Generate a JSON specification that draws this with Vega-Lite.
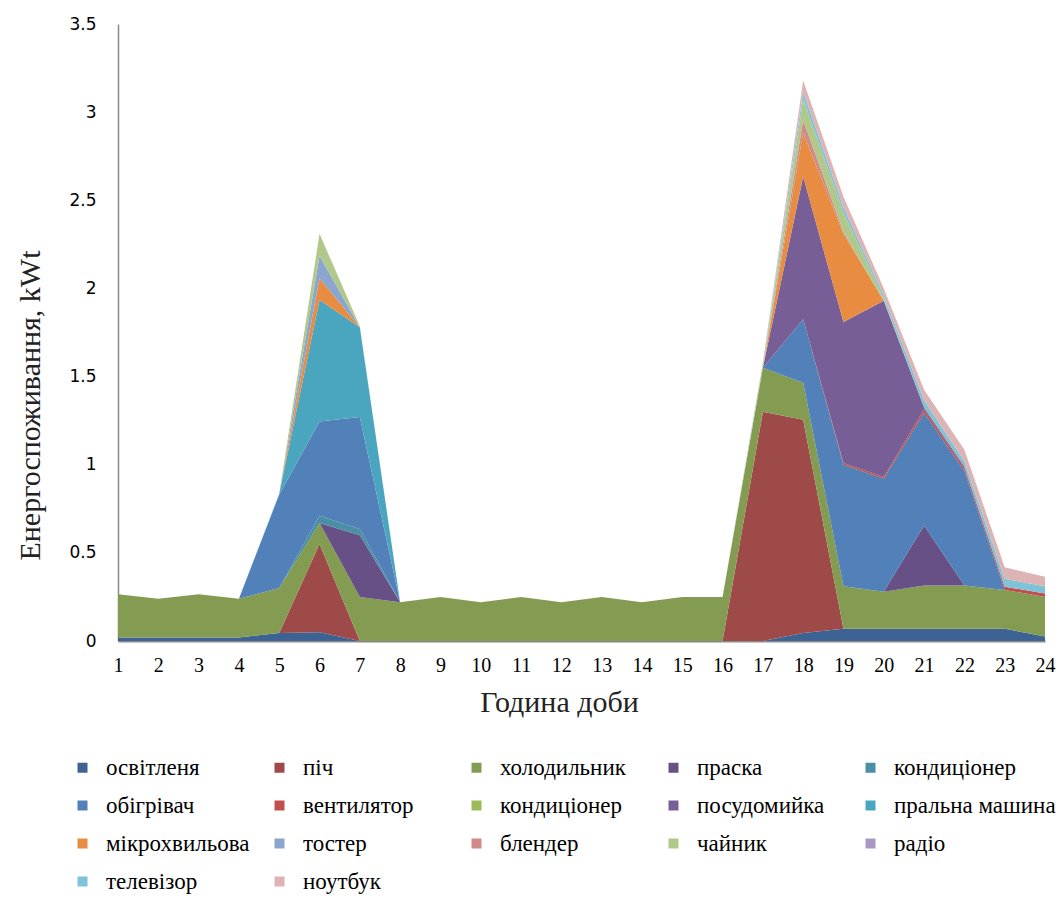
{
  "$schema": "https://vega.github.io/schema/vega-lite/v6.json",
  "width": 927,
  "height": 617,
  "autosize": {"type": "none"},
  "padding": {"left": 118, "top": 24, "right": 18, "bottom": 259},
  "background": "white",
  "config": {
    "font": "Liberation Serif",
    "view": {"stroke": null},
    "legend": {"labelFont": "Liberation Serif", "labelFontSize": 23}
  },
  "data": {"values": [
    {"h":1,"k":1,"s":"освітленя","v":0.02},{"h":2,"k":1,"s":"освітленя","v":0.02},{"h":3,"k":1,"s":"освітленя","v":0.02},{"h":4,"k":1,"s":"освітленя","v":0.02},{"h":5,"k":1,"s":"освітленя","v":0.045},{"h":6,"k":1,"s":"освітленя","v":0.05},{"h":7,"k":1,"s":"освітленя","v":0},{"h":8,"k":1,"s":"освітленя","v":0},{"h":9,"k":1,"s":"освітленя","v":0},{"h":10,"k":1,"s":"освітленя","v":0},{"h":11,"k":1,"s":"освітленя","v":0},{"h":12,"k":1,"s":"освітленя","v":0},{"h":13,"k":1,"s":"освітленя","v":0},{"h":14,"k":1,"s":"освітленя","v":0},{"h":15,"k":1,"s":"освітленя","v":0},{"h":16,"k":1,"s":"освітленя","v":0},{"h":17,"k":1,"s":"освітленя","v":0},{"h":18,"k":1,"s":"освітленя","v":0.045},{"h":19,"k":1,"s":"освітленя","v":0.07},{"h":20,"k":1,"s":"освітленя","v":0.07},{"h":21,"k":1,"s":"освітленя","v":0.07},{"h":22,"k":1,"s":"освітленя","v":0.07},{"h":23,"k":1,"s":"освітленя","v":0.07},{"h":24,"k":1,"s":"освітленя","v":0.025},
    {"h":5,"k":2,"s":"піч","v":0},{"h":6,"k":2,"s":"піч","v":0.5},{"h":7,"k":2,"s":"піч","v":0},{"h":16,"k":2,"s":"піч","v":0},{"h":17,"k":2,"s":"піч","v":1.3},{"h":18,"k":2,"s":"піч","v":1.21},{"h":19,"k":2,"s":"піч","v":0},
    {"h":1,"k":3,"s":"холодильник","v":0.245},{"h":2,"k":3,"s":"холодильник","v":0.22},{"h":3,"k":3,"s":"холодильник","v":0.245},{"h":4,"k":3,"s":"холодильник","v":0.22},{"h":5,"k":3,"s":"холодильник","v":0.255},{"h":6,"k":3,"s":"холодильник","v":0.12},{"h":7,"k":3,"s":"холодильник","v":0.25},{"h":8,"k":3,"s":"холодильник","v":0.22},{"h":9,"k":3,"s":"холодильник","v":0.25},{"h":10,"k":3,"s":"холодильник","v":0.22},{"h":11,"k":3,"s":"холодильник","v":0.25},{"h":12,"k":3,"s":"холодильник","v":0.22},{"h":13,"k":3,"s":"холодильник","v":0.25},{"h":14,"k":3,"s":"холодильник","v":0.22},{"h":15,"k":3,"s":"холодильник","v":0.25},{"h":16,"k":3,"s":"холодильник","v":0.25},{"h":17,"k":3,"s":"холодильник","v":0.25},{"h":18,"k":3,"s":"холодильник","v":0.21},{"h":19,"k":3,"s":"холодильник","v":0.24},{"h":20,"k":3,"s":"холодильник","v":0.21},{"h":21,"k":3,"s":"холодильник","v":0.245},{"h":22,"k":3,"s":"холодильник","v":0.245},{"h":23,"k":3,"s":"холодильник","v":0.22},{"h":24,"k":3,"s":"холодильник","v":0.225},
    {"h":6,"k":4,"s":"праска","v":0},{"h":7,"k":4,"s":"праска","v":0.35},{"h":8,"k":4,"s":"праска","v":0},{"h":20,"k":4,"s":"праска","v":0},{"h":21,"k":4,"s":"праска","v":0.34},{"h":22,"k":4,"s":"праска","v":0},
    {"h":5,"k":5,"s":"кондиціонер","v":0},{"h":6,"k":5,"s":"кондиціонер","v":0.04},{"h":7,"k":5,"s":"кондиціонер","v":0.035},{"h":8,"k":5,"s":"кондиціонер","v":0},
    {"h":4,"k":6,"s":"обігрівач","v":0},{"h":5,"k":6,"s":"обігрівач","v":0.53},{"h":6,"k":6,"s":"обігрівач","v":0.535},{"h":7,"k":6,"s":"обігрівач","v":0.635},{"h":8,"k":6,"s":"обігрівач","v":0},{"h":17,"k":6,"s":"обігрівач","v":0},{"h":18,"k":6,"s":"обігрівач","v":0.36},{"h":19,"k":6,"s":"обігрівач","v":0.69},{"h":20,"k":6,"s":"обігрівач","v":0.64},{"h":21,"k":6,"s":"обігрівач","v":0.64},{"h":22,"k":6,"s":"обігрівач","v":0.65},{"h":23,"k":6,"s":"обігрівач","v":0},
    {"h":18,"k":7,"s":"вентилятор","v":0},{"h":19,"k":7,"s":"вентилятор","v":0.01},{"h":20,"k":7,"s":"вентилятор","v":0.01},{"h":21,"k":7,"s":"вентилятор","v":0.02},{"h":22,"k":7,"s":"вентилятор","v":0.015},{"h":23,"k":7,"s":"вентилятор","v":0.018},{"h":24,"k":7,"s":"вентилятор","v":0.02},
    {"h":17,"k":9,"s":"посудомийка","v":0},{"h":18,"k":9,"s":"посудомийка","v":0.81},{"h":19,"k":9,"s":"посудомийка","v":0.8},{"h":20,"k":9,"s":"посудомийка","v":1.0},{"h":21,"k":9,"s":"посудомийка","v":0.01},{"h":22,"k":9,"s":"посудомийка","v":0.01},{"h":23,"k":9,"s":"посудомийка","v":0},
    {"h":4,"k":10,"s":"пральна машина","v":0},{"h":5,"k":10,"s":"пральна машина","v":0.005},{"h":6,"k":10,"s":"пральна машина","v":0.69},{"h":7,"k":10,"s":"пральна машина","v":0.51},{"h":8,"k":10,"s":"пральна машина","v":0},
    {"h":5,"k":11,"s":"мікрохвильова","v":0},{"h":6,"k":11,"s":"мікрохвильова","v":0.123},{"h":7,"k":11,"s":"мікрохвильова","v":0},{"h":17,"k":11,"s":"мікрохвильова","v":0},{"h":18,"k":11,"s":"мікрохвильова","v":0.25},{"h":19,"k":11,"s":"мікрохвильова","v":0.5},{"h":20,"k":11,"s":"мікрохвильова","v":0},
    {"h":5,"k":12,"s":"тостер","v":0},{"h":6,"k":12,"s":"тостер","v":0.127},{"h":7,"k":12,"s":"тостер","v":0},
    {"h":17,"k":13,"s":"блендер","v":0},{"h":18,"k":13,"s":"блендер","v":0.07},{"h":19,"k":13,"s":"блендер","v":0.01},{"h":20,"k":13,"s":"блендер","v":0},
    {"h":5,"k":14,"s":"чайник","v":0},{"h":6,"k":14,"s":"чайник","v":0.125},{"h":7,"k":14,"s":"чайник","v":0.005},{"h":8,"k":14,"s":"чайник","v":0},{"h":16,"k":14,"s":"чайник","v":0},{"h":17,"k":14,"s":"чайник","v":0.015},{"h":18,"k":14,"s":"чайник","v":0.12},{"h":19,"k":14,"s":"чайник","v":0.11},{"h":20,"k":14,"s":"чайник","v":0.01},{"h":21,"k":14,"s":"чайник","v":0},
    {"h":16,"k":16,"s":"телевізор","v":0},{"h":17,"k":16,"s":"телевізор","v":0.01},{"h":18,"k":16,"s":"телевізор","v":0.04},{"h":19,"k":16,"s":"телевізор","v":0.03},{"h":20,"k":16,"s":"телевізор","v":0.02},{"h":21,"k":16,"s":"телевізор","v":0.04},{"h":22,"k":16,"s":"телевізор","v":0.03},{"h":23,"k":16,"s":"телевізор","v":0.045},{"h":24,"k":16,"s":"телевізор","v":0.04},
    {"h":16,"k":17,"s":"ноутбук","v":0},{"h":17,"k":17,"s":"ноутбук","v":0.005},{"h":18,"k":17,"s":"ноутбук","v":0.065},{"h":19,"k":17,"s":"ноутбук","v":0.06},{"h":20,"k":17,"s":"ноутбук","v":0.04},{"h":21,"k":17,"s":"ноутбук","v":0.06},{"h":22,"k":17,"s":"ноутбук","v":0.065},{"h":23,"k":17,"s":"ноутбук","v":0.065},{"h":24,"k":17,"s":"ноутбук","v":0.055}
  ]},
  "mark": {"type": "area", "interpolate": "linear", "opacity": 1},
  "encoding": {
    "x": {
      "field": "h", "type": "quantitative",
      "scale": {"domain": [1, 24], "nice": false, "zero": false},
      "axis": {
        "values": [1,2,3,4,5,6,7,8,9,10,11,12,13,14,15,16,17,18,19,20,21,22,23,24],
        "title": "Година доби", "grid": false, "ticks": false,
        "domainColor": "#8a8a8a", "domainWidth": 2,
        "labelFont": "Liberation Serif", "labelFontSize": 20, "labelColor": "#000000",
        "labelPadding": 14, "labelFlush": false, "labelOverlap": false,
        "titleFont": "Liberation Serif", "titleFontSize": 30, "titleFontWeight": "normal",
        "titleColor": "#222222", "titleX": 441, "titleY": 61, "titleBaseline": "middle", "titleAlign": "center"
      }
    },
    "y": {
      "field": "v", "type": "quantitative", "stack": "zero",
      "scale": {"domain": [0, 3.5], "nice": false},
      "axis": {
        "values": [0, 0.5, 1, 1.5, 2, 2.5, 3, 3.5], "format": "~g",
        "title": "Енергоспоживання,  kWt", "grid": false, "ticks": false,
        "domainColor": "#8a8a8a", "domainWidth": 1.5,
        "labelFont": "DejaVu Sans", "labelFontSize": 17, "labelColor": "#000000", "labelPadding": 22,
        "titleFont": "Liberation Serif", "titleFontSize": 30, "titleFontWeight": "normal",
        "titleColor": "#222222", "titleX": -88, "titleY": 381, "titleBaseline": "middle", "titleAlign": "center", "titleAngle": -90
      }
    },
    "color": {
      "field": "s", "type": "nominal",
      "scale": {
        "domain": ["освітленя","піч","холодильник","праска","кондиціонер","обігрівач","вентилятор","кондиціонер ","посудомийка","пральна машина","мікрохвильова","тостер","блендер","чайник","радіо","телевізор","ноутбук"],
        "range": ["#3D6394","#9E4A49","#849C52","#665085","#4A8FA3","#5280B8","#C0504D","#9BBB59","#775E96","#4AA6BF","#E88C41","#8AA5CF","#D08A88","#B0C98A","#A899C2","#80C3D8","#DDB4B3"]
      },
      "legend": {
        "orient": "none", "legendX": -47, "legendY": 732, "columns": 5, "direction": "horizontal",
        "title": null, "symbolType": "square", "symbolSize": 100, "symbolStrokeWidth": 0,
        "labelFont": "Liberation Serif", "labelFontSize": 23, "labelColor": "#000000",
        "labelOffset": 12, "rowPadding": 14, "columnPadding": -5, "gridAlign": "all", "labelLimit": 400
      }
    },
    "order": {"field": "k", "type": "quantitative"}
  }
}
